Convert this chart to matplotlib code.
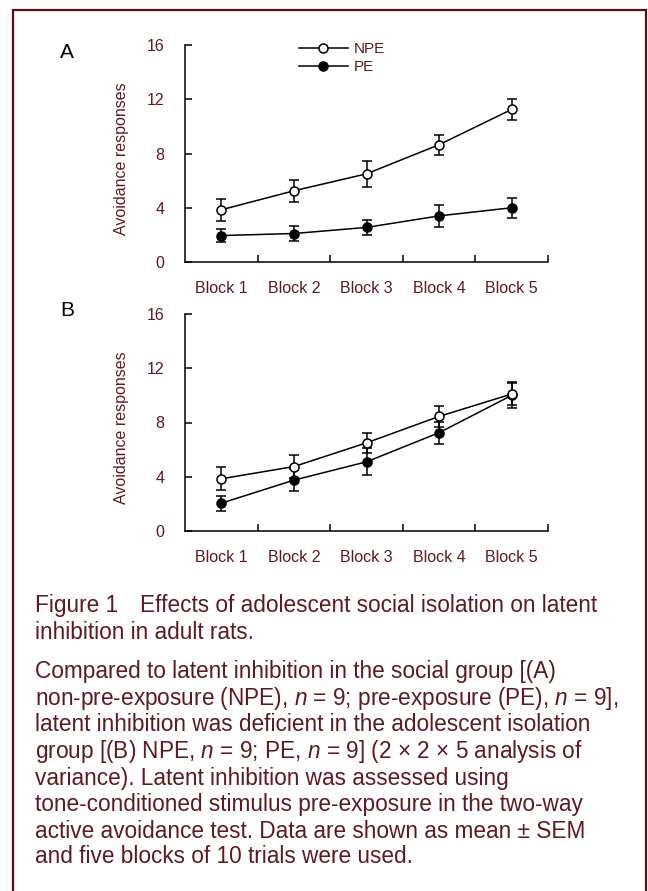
import matplotlib
matplotlib.use('Agg')
import matplotlib.pyplot as plt
from matplotlib.patches import Rectangle
from matplotlib.lines import Line2D

plt.rcParams['font.family'] = ['Liberation Sans', 'DejaVu Sans']
plt.rcParams['mathtext.fontset'] = 'custom'
plt.rcParams['mathtext.rm'] = 'Liberation Sans'
plt.rcParams['mathtext.it'] = 'Liberation Sans:italic'

# data
blocks = ['Block 1', 'Block 2', 'Block 3', 'Block 4', 'Block 5']
a_npe = [3.85, 5.25, 6.5, 8.65, 11.25]
a_npe_sem = [0.83, 0.82, 0.95, 0.75, 0.8]
a_pe = [1.95, 2.1, 2.55, 3.4, 4.0]
a_pe_sem = [0.5, 0.55, 0.57, 0.8, 0.75]
b_npe = [3.85, 4.75, 6.5, 8.45, 10.1]
b_npe_sem = [0.84, 0.82, 0.75, 0.8, 0.8]
b_pe = [2.05, 3.75, 5.1, 7.25, 10.0]
b_pe_sem = [0.56, 0.82, 1.0, 0.8, 0.95]
yticks = [0, 4, 8, 12, 16]

maroon = '#5e1a20'
W, H = 648, 891

fig = plt.figure(figsize=(W / 100, H / 100), dpi=100)

# border (open at the bottom)
fig.patches.append(Rectangle((13 / W, -0.05), (646 - 13) / W, 1.05 - 10 / H,
                             transform=fig.transFigure, fill=False,
                             edgecolor='#5a0c12', linewidth=1.6))

style = dict(color='black', lw=1.1, capsize=3.5, elinewidth=1.1, capthick=1.1,
             marker='o', ms=6.5, mec='black', mew=1.1)


def panel(top_px, npe, npe_sem, pe, pe_sem, letter, letter_y, legend=False):
    ax = fig.add_axes([185 / W, 1 - (top_px + 217) / H, 363 / W, 217 / H])
    x = list(range(1, len(blocks) + 1))
    ax.errorbar(x, pe, yerr=pe_sem, mfc='black', zorder=3, **style)
    ax.errorbar(x, npe, yerr=npe_sem, mfc='white', zorder=4, **style)
    ax.set_xlim(0.5, len(blocks) + 0.5)
    ax.set_ylim(0, 16)
    ax.set_yticks(yticks)
    ax.set_xticks(x)
    ax.set_xticklabels(blocks)
    ax.set_xticks([i + 0.5 for i in x], minor=True)
    ax.tick_params(axis='x', which='major', length=0, pad=14, labelsize=11.5,
                   labelcolor=maroon)
    ax.tick_params(axis='x', which='minor', direction='in', length=5, width=1.1)
    ax.tick_params(axis='y', direction='in', length=5, width=1.1, pad=15,
                   labelsize=11.5, labelcolor=maroon)
    for s in ['top', 'right']:
        ax.spines[s].set_visible(False)
    for s in ['left', 'bottom']:
        ax.spines[s].set_linewidth(1.1)
    ax.set_ylabel('Avoidance responses', fontsize=11.5, color=maroon)
    ax.yaxis.set_label_coords(-0.155, 0.475)
    fig.text(60 / W, 1 - letter_y / H, letter, fontsize=15, va='center',
             ha='left', color='black')
    if legend:
        handles = [Line2D([], [], color='black', lw=1.1, marker='o', ms=6.5,
                          mfc='white', mec='black', mew=1.1),
                   Line2D([], [], color='black', lw=1.1, marker='o', ms=6.5,
                          mfc='black', mec='black', mew=1.1)]
        ax.legend(handles, ['NPE', 'PE'], loc='upper left',
                  bbox_to_anchor=(0.314, 1.012), frameon=False,
                  fontsize=11, handlelength=3.2, handletextpad=0.4,
                  labelspacing=0.25, borderpad=0, borderaxespad=0,
                  labelcolor=maroon)
    return ax


panel(45, a_npe, a_npe_sem, a_pe, a_pe_sem, 'A', 52, legend=True)
panel(314, b_npe, b_npe_sem, b_pe, b_pe_sem, 'B', 310)

cap_size = 16.3
fig.text(35 / W, 1 - 612 / H, 'Figure 1', fontsize=cap_size, color=maroon)
fig.text(140 / W, 1 - 612 / H, 'Effects of adolescent social isolation on latent',
         fontsize=cap_size, color=maroon)
caption_lines = [
    'inhibition in adult rats.',
    None,
    'Compared to latent inhibition in the social group [(A)',
    'non-pre-exposure (NPE), $n$ = 9; pre-exposure (PE), $n$ = 9],',
    'latent inhibition was deficient in the adolescent isolation',
    'group [(B) NPE, $n$ = 9; PE, $n$ = 9] (2 \u00d7 2 \u00d7 5 analysis of',
    'variance). Latent inhibition was assessed using',
    'tone-conditioned stimulus pre-exposure in the two-way',
    'active avoidance test. Data are shown as mean \u00b1 SEM',
    'and five blocks of 10 trials were used.',
]
baselines = [639, None, 678, 705, 731, 758, 785, 811, 838, 863]
for line, yb in zip(caption_lines, baselines):
    if line is None:
        continue
    fig.text(35 / W, 1 - yb / H, line, fontsize=cap_size, color=maroon)

fig.savefig('out.png', dpi=100)
